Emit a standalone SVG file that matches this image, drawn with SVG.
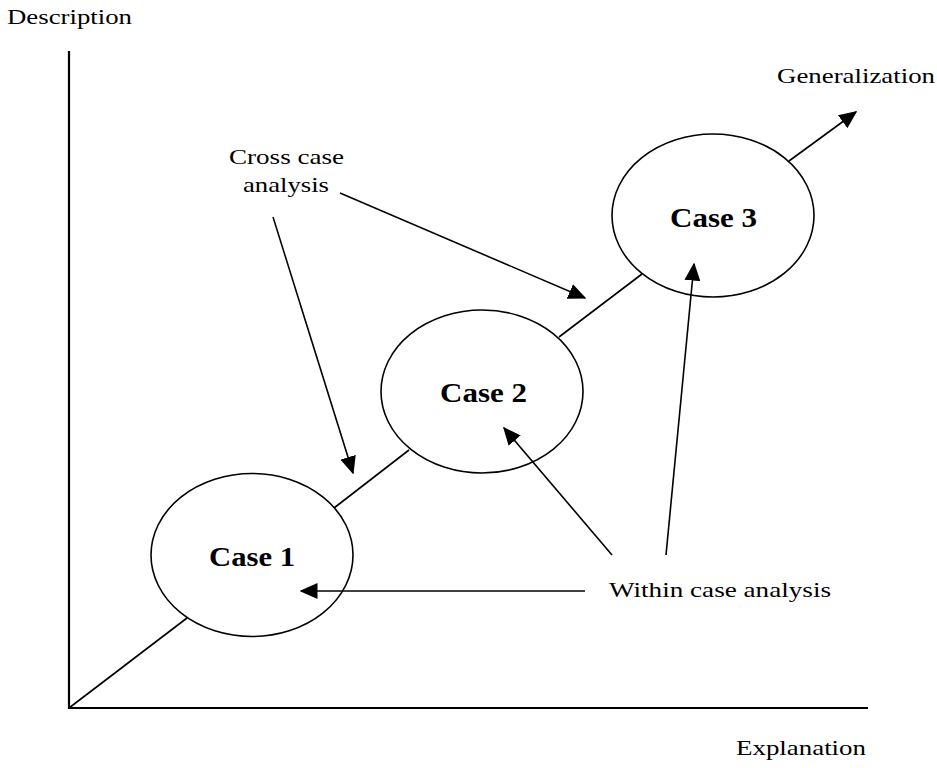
<svg xmlns="http://www.w3.org/2000/svg" width="937" height="768" viewBox="0 0 937 768">
  <style>
    .lbl { font-family: "Liberation Serif", "Times New Roman", serif; font-size: 22px; fill: #000; }
    .case { font-family: "Liberation Serif", "Times New Roman", serif; font-size: 27px; font-weight: bold; fill: #000; text-anchor: middle; }
    .node { fill: #fff; stroke: #000; stroke-width: 1.6; }
    .axis { fill: none; stroke: #000; stroke-width: 2.2; }
    .link { fill: none; stroke: #000; stroke-width: 1.6; }
    .arrow { fill: none; stroke: #000; stroke-width: 1.6; marker-end: url(#head); }
  </style>
  <defs>
    <marker id="head" viewBox="0 0 18 16" refX="16.5" refY="8" markerWidth="18" markerHeight="16" markerUnits="userSpaceOnUse" orient="auto">
      <path d="M0,0 L18,8 L0,16 Z" fill="#000"/>
    </marker>
  </defs>

  <rect width="937" height="768" fill="#fff"/>

  <!-- axes -->
  <g id="axes">
    <polyline class="axis" points="69,51 69,708 868,708"/>
    <text class="lbl" x="7" y="24" textLength="125" lengthAdjust="spacingAndGlyphs">Description</text>
    <text class="lbl" x="736" y="755" textLength="130" lengthAdjust="spacingAndGlyphs">Explanation</text>
  </g>

  <g id="case1">
    <ellipse class="node" cx="252" cy="555" rx="101" ry="81.5"/>
    <text class="case" x="252" y="566" textLength="86" lengthAdjust="spacingAndGlyphs">Case 1</text>
  </g>
  <g id="case2">
    <ellipse class="node" cx="482" cy="391.5" rx="101" ry="81.5"/>
    <text class="case" x="483.5" y="402" textLength="87" lengthAdjust="spacingAndGlyphs">Case 2</text>
  </g>
  <g id="case3">
    <ellipse class="node" cx="713" cy="215.5" rx="101" ry="81.5"/>
    <text class="case" x="713.5" y="227" textLength="87" lengthAdjust="spacingAndGlyphs">Case 3</text>
  </g>

  <g id="generalization">
    <text class="lbl" x="777" y="83" textLength="158" lengthAdjust="spacingAndGlyphs">Generalization</text>
  </g>
  <g id="cross-case">
    <text class="lbl" x="229" y="164" textLength="115" lengthAdjust="spacingAndGlyphs">Cross case</text>
    <text class="lbl" x="243" y="192" textLength="86" lengthAdjust="spacingAndGlyphs">analysis</text>
  </g>
  <g id="within-case">
    <text class="lbl" x="609" y="597" textLength="222" lengthAdjust="spacingAndGlyphs">Within case analysis</text>
  </g>

  <!-- connectors, drawn over the case ellipses -->
  <g id="connectors">
    <line class="link" x1="69" y1="708" x2="187" y2="618"/>
    <line class="link" x1="334" y1="508" x2="409" y2="450"/>
    <line class="link" x1="559" y1="337" x2="642" y2="274"/>
    <line class="arrow" x1="789" y1="161" x2="856" y2="112"/>
    <line class="arrow" x1="273" y1="217" x2="353" y2="473"/>
    <line class="arrow" x1="340" y1="193" x2="585" y2="298"/>
    <line class="arrow" x1="585" y1="591" x2="301" y2="591"/>
    <line class="arrow" x1="612" y1="555" x2="504" y2="428"/>
    <line class="arrow" x1="666" y1="555" x2="694" y2="264"/>
  </g>
</svg>
